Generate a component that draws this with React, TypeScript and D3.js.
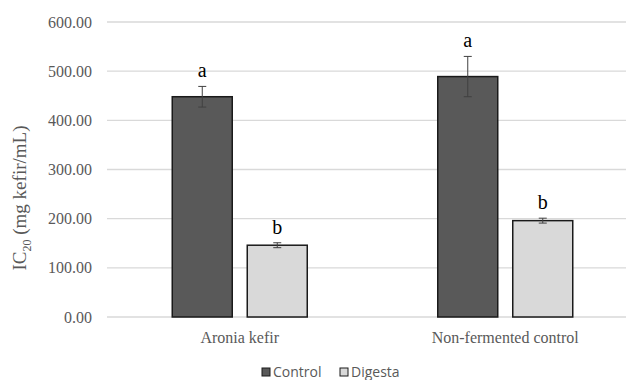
import React from 'react';
import * as d3 from 'd3';

// data
const categories = ['Aronia kefir', 'Non-fermented control'];
const seriesNames = ['Control', 'Digesta'];
const controlValues = [448, 489];
const digestaValues = [146, 196];
const controlErrors = [21, 41];
const digestaErrors = [5, 5];
const controlLetters = ['a', 'a'];
const digestaLetters = ['b', 'b'];
const yTicks = [0, 100, 200, 300, 400, 500, 600];

const seriesColors = ['#595959', '#d9d9d9'];

const App = () => {
  const width = 627;
  const height = 380;
  const left = 107;
  const gridRight = 626;

  const y = d3.scaleLinear().domain([0, 600]).range([317, 22]);
  const x0 = d3.scaleBand().domain(categories).range([left, 638]);
  const x1 = d3.scaleBand().domain(seriesNames).range([0, 135]).paddingInner(0.2);

  const values = [controlValues, digestaValues];
  const errors = [controlErrors, digestaErrors];
  const letters = [controlLetters, digestaLetters];

  const serif = '"Liberation Serif", "Times New Roman", serif';
  const sans = '"Open Sans", "Liberation Sans", sans-serif';

  return (
    <svg width={width} height={height} style={{ position: 'absolute', left: 0, top: 0, background: '#fff' }}>
      {/* gridlines and y tick labels */}
      {yTicks.map(t => (
        <g key={t}>
          <line x1={left} x2={gridRight} y1={y(t)} y2={y(t)} stroke="#d9d9d9" strokeWidth={1.3} />
          <text x={92} y={y(t)} dy="0.35em" textAnchor="end" fontFamily={serif} fontSize={16} fill="#595959">
            {d3.format('.2f')(t)}
          </text>
        </g>
      ))}

      {/* bars, error bars, letters */}
      {categories.map((c, i) => {
        const gx = x0(c)! + (x0.bandwidth() - 135) / 2;
        return (
          <g key={c} transform={`translate(${gx},0)`}>
            {seriesNames.map((s, j) => {
              const v = values[j][i];
              const e = errors[j][i];
              const bx = x1(s)!;
              const cx = bx + x1.bandwidth() / 2;
              return (
                <g key={s}>
                  <rect x={bx} y={y(v)} width={x1.bandwidth()} height={y(0) - y(v)}
                    fill={seriesColors[j]} stroke="#1a1a1a" strokeWidth={1.5} />
                  <line x1={cx} x2={cx} y1={y(v + e)} y2={y(v - e)} stroke="#404040" strokeWidth={1} />
                  <line x1={cx - 4} x2={cx + 4} y1={y(v + e)} y2={y(v + e)} stroke="#404040" strokeWidth={1} />
                  <line x1={cx - 4} x2={cx + 4} y1={y(v - e)} y2={y(v - e)} stroke="#404040" strokeWidth={1} />
                  <text x={cx} y={y(v + e) - 9} textAnchor="middle" fontFamily={serif} fontSize={20} fill="#000">
                    {letters[j][i]}
                  </text>
                </g>
              );
            })}
            <text x={67.5} y={343} textAnchor="middle" fontFamily={serif} fontSize={16} fill="#595959">{c}</text>
          </g>
        );
      })}

      {/* y axis title */}
      <text transform="translate(26,198) rotate(-90)" textAnchor="middle" fontFamily={serif} fontSize={19} fill="#595959">
        IC<tspan fontSize={12} dy={5}>20</tspan><tspan dy={-5}> (mg kefir/mL)</tspan>
      </text>

      {/* legend */}
      {seriesNames.map((s, j) => {
        const lx = j === 0 ? 262 : 340;
        return (
          <g key={s} transform={`translate(${lx},368)`}>
            <rect x={0} y={0} width={8} height={8} fill={seriesColors[j]} stroke="#1a1a1a" strokeWidth={1} />
            <text x={11} y={4} dy="0.36em" fontFamily={sans} fontSize={14} fill="#595959">{s}</text>
          </g>
        );
      })}
    </svg>
  );
};

export default App;
